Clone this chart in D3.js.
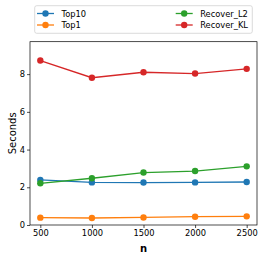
<!DOCTYPE html>
<html>
<head>
<meta charset="utf-8">
<script src="https://cdn.jsdelivr.net/npm/d3@7"></script>
<style>
body { margin: 0; background: #fff; }
text { font-family: "DejaVu Sans", sans-serif; }
</style>
</head>
<body>
<svg id="chart"></svg>
<script>
let nValues = [500, 1000, 1500, 2000, 2500];
let top10 = [2.39, 2.26, 2.25, 2.26, 2.28];
let top1 = [0.39, 0.37, 0.40, 0.44, 0.46];
let recoverL2 = [2.21, 2.48, 2.78, 2.86, 3.11];
let recoverKL = [8.72, 7.81, 8.10, 8.03, 8.28];
let xTicks = [500, 1000, 1500, 2000, 2500];
let yTicks = [0, 2, 4, 6, 8];

let series = [
    { name: "Top10", values: top10, color: "#1f77b4" },
    { name: "Top1", values: top1, color: "#ff7f0e" },
    { name: "Recover_L2", values: recoverL2, color: "#2ca02c" },
    { name: "Recover_KL", values: recoverKL, color: "#d62728" }
];

let ancho = 266, alto = 259;
let margin = { left: 30, right: 9, top: 41.7, bottom: 34 };

let svg = d3.select("#chart")
    .attr("width", ancho)
    .attr("height", alto);

let x = d3.scaleLinear()
    .domain([400, 2600])
    .range([margin.left, ancho - margin.right]);

let y = d3.scaleLinear()
    .domain([0, 9.72])
    .range([alto - margin.bottom, margin.top]);

// ejes
let xAxis = svg.append("g")
    .attr("transform", "translate(0," + (alto - margin.bottom) + ")")
    .call(d3.axisBottom(x).tickValues(xTicks).tickSize(3).tickPadding(2).tickFormat(d3.format("d")));

let yAxis = svg.append("g")
    .attr("transform", "translate(" + margin.left + ",0)")
    .call(d3.axisLeft(y).tickValues(yTicks).tickSize(3).tickPadding(2).tickFormat(d3.format("d")));

[xAxis, yAxis].forEach(function (a) {
    a.select(".domain").remove();
    a.selectAll("text").attr("font-size", 8.3).attr("fill", "#000").style("font-family", "DejaVu Sans");
    a.selectAll("line").attr("stroke", "#000").attr("stroke-width", 0.7);
});

// marco
svg.append("rect")
    .attr("x", margin.left)
    .attr("y", margin.top)
    .attr("width", ancho - margin.left - margin.right)
    .attr("height", alto - margin.top - margin.bottom)
    .attr("fill", "none")
    .attr("stroke", "#000")
    .attr("stroke-width", 0.7);

// lineas
let line = d3.line()
    .x(function (d, i) { return x(nValues[i]); })
    .y(function (d) { return y(d); });

series.forEach(function (s) {
    let g = svg.append("g");
    g.append("path")
        .attr("d", line(s.values))
        .attr("fill", "none")
        .attr("stroke", s.color)
        .attr("stroke-width", 1.3);
    g.selectAll("circle")
        .data(s.values)
        .enter()
        .append("circle")
        .attr("cx", function (d, i) { return x(nValues[i]); })
        .attr("cy", function (d) { return y(d); })
        .attr("r", 3.2)
        .attr("fill", s.color);
});

// etiquetas
svg.append("text")
    .attr("x", (margin.left + ancho - margin.right) / 2)
    .attr("y", 251.5)
    .attr("text-anchor", "middle")
    .attr("font-size", 10)
    .attr("font-weight", "bold")
    .text("n");

svg.append("text")
    .attr("transform", "translate(15.5," + ((margin.top + alto - margin.bottom) / 2) + ") rotate(-90)")
    .attr("text-anchor", "middle")
    .attr("font-size", 10)
    .text("Seconds");

// leyenda
let leg = svg.append("g");
leg.append("rect")
    .attr("x", 34.7)
    .attr("y", 5.7)
    .attr("width", 217.6)
    .attr("height", 27.6)
    .attr("rx", 2)
    .attr("fill", "#fff")
    .attr("stroke", "#ccc")
    .attr("stroke-width", 0.7);

let legPos = [
    { x: 37, y: 13.5 }, { x: 37, y: 25 },
    { x: 175.7, y: 13.5 }, { x: 175.7, y: 25 }
];

series.forEach(function (s, i) {
    let p = legPos[i];
    leg.append("line")
        .attr("x1", p.x).attr("x2", p.x + 17)
        .attr("y1", p.y).attr("y2", p.y)
        .attr("stroke", s.color)
        .attr("stroke-width", 1.3);
    leg.append("circle")
        .attr("cx", p.x + 8.5)
        .attr("cy", p.y)
        .attr("r", 3.2)
        .attr("fill", s.color);
    leg.append("text")
        .attr("x", p.x + 24.5)
        .attr("y", p.y + 3)
        .attr("font-size", 8.3)
        .text(s.name);
});
</script>
</body>
</html>
